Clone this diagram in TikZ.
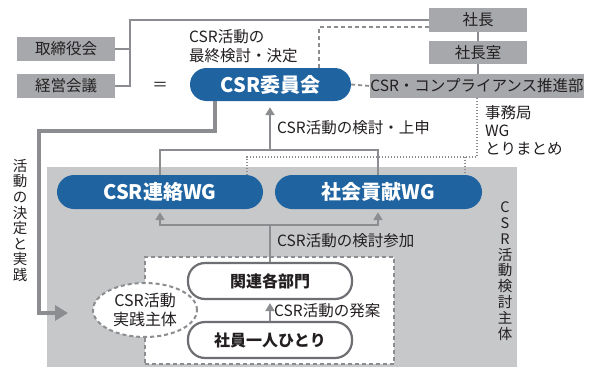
\documentclass[tikz,border=0pt]{standalone}
\usepackage{fontspec}
\setmainfont{Noto Sans CJK JP}
\usetikzlibrary{arrows.meta,shapes.geometric}
\definecolor{cblue}{HTML}{1F64A0}
\definecolor{cgreybox}{HTML}{A6A8AB}
\definecolor{cbg}{HTML}{C6C8CA}
\definecolor{cline}{HTML}{8B8D90}
\definecolor{cpill}{HTML}{6D6F72}
\definecolor{ctext}{HTML}{231F20}
\tikzset{
  greybox/.style={fill=cgreybox, text=ctext, minimum width=98pt, minimum height=24pt, inner sep=0pt, font=\fontsize{15.5}{18}\selectfont},
  bluepill/.style={fill=cblue, text=white, inner sep=0pt, font=\bfseries\fontsize{20}{24}\selectfont},
  outpill/.style={draw=cpill, line width=2.2pt, fill=white, rounded corners=17pt, inner sep=0pt, minimum width=164pt, minimum height=36pt, text=ctext, font=\bfseries\fontsize{16}{19}\selectfont},
  lbl/.style={text=ctext, inner sep=0pt, font=\fontsize{15.5}{19}\selectfont},
  conn/.style={draw=cline, line width=2.4pt},
  arr/.style={conn, -{Triangle[width=9pt,length=8pt]}},
  bigconn/.style={draw=cline, line width=4pt},
  dashline/.style={draw=cline, line width=1.8pt, dash pattern=on 4pt off 3pt},
  dotline/.style={draw=cline, line width=1.3pt, dash pattern=on 1.2pt off 1.8pt},
  dashbox/.style={draw=cline, line width=2pt, dash pattern=on 4pt off 3pt, fill=white, inner sep=0pt},
}
\begin{document}
\begin{tikzpicture}[x=1pt,y=-1pt]
\useasboundingbox (0,0) rectangle (590,367);
\fill[white] (0,0) rectangle (590,367);
% grey region
\node[fill=cbg, inner sep=0pt, minimum width=470pt, minimum height=200pt, anchor=north west] (region) at (47,167) {};
% dashed white area and ellipse
\node[dashbox, minimum width=249pt, minimum height=107pt] (area) at (269.5,310.5) {};
\node[dashbox, ellipse, minimum width=104pt, minimum height=54pt, align=center, text=ctext, font=\fontsize{16}{19}\selectfont] (jissen) at (145,310) {CSR活動\\実践主体};
% boxes
\node[greybox] (tori) at (66,49) {取締役会};
\node[greybox] (keiei) at (66,86) {経営会議};
\node[greybox] (shacho) at (478,20) {社長};
\node[greybox, minimum height=23pt] (shitsu) at (478,52.5) {社長室};
\node[greybox, minimum width=212pt] (suishin) at (477,86) {CSR・コンプライアンス推進部};
\node[bluepill, rounded corners=16.5pt, minimum width=161pt, minimum height=33pt] (iinkai) at (270.5,84.5) {CSR委員会};
\node[bluepill, rounded corners=17pt, minimum width=206pt, minimum height=34pt] (renraku) at (160,192) {CSR連絡WG};
\node[bluepill, rounded corners=17pt, minimum width=207pt, minimum height=34pt] (shakai) at (378.5,192) {社会貢献WG};
\node[outpill] (kanren) at (270,281) {関連各部門};
\node[outpill] (shain) at (270,340) {社員一人ひとり};
% texts
\node[lbl] (eq) at (160,86) {＝};
\node[lbl, anchor=west, align=left] (saishu) at (189,46.5) {CSR活動の\\最終検討・決定};
\node[lbl, anchor=west, align=left, font=\fontsize{15.5}{18}\selectfont] (jimu) at (485,130) {事務局\\WG\\とりまとめ};
\node[lbl, anchor=west] (l1) at (277,128) {CSR活動の検討・上申};
\node[lbl, anchor=west] (l2) at (277,241) {CSR活動の検討参加};
\node[lbl, anchor=west] (l3) at (274,311) {CSR活動の発案};
\node[lbl, align=center, font=\fontsize{14.5}{15.6}\selectfont] (kettei) at (20,220.5) {活\\動\\の\\決\\定\\と\\実\\践};
\node[lbl, align=center, font=\fontsize{14.5}{15.8}\selectfont] (kento) at (505,271) {C\\S\\R\\活\\動\\検\\討\\主\\体};
% coordinates
\coordinate (d1) at (319,27);
\coordinate (p1) at (477,157);
\coordinate (p2) at (247,157);
\coordinate (p3) at (465,157);
\coordinate (s1) at (160,150);
\coordinate (s2) at (378,150);
\coordinate (s3) at (270,150);
\coordinate (u1) at (160,225);
\coordinate (u2) at (378,225);
\coordinate (u3) at (270,225);
\coordinate (t1) at (215,131);
\coordinate (t2) at (39,131);
\coordinate (t3) at (39,313);
\coordinate (t4) at (68,313);
% connectors
\draw[conn] (tori.east) -- ++(16.2,0);
\draw[conn] (keiei.east) -- ++(15,0) |- (shacho.west);
\draw[conn] (shacho.south) -- (shitsu.north);
\draw[conn] (shitsu.south) -- (shitsu.south |- suishin.north);
\draw[dashline] ([yshift=-7pt]shacho.west) -- (d1) -- (d1 |- iinkai.north);
\draw[dashline] (iinkai.east) -- (suishin.west);
\draw[dotline] (suishin.south -| p1) -- (p1) -- (p2) -- (p2 |- renraku.north);
\draw[dotline] (p3) -- (p3 |- shakai.north);
\draw[conn] (s1 |- renraku.north) -- (s1) -- (s2) -- (s2 |- shakai.north);
\draw[arr, shorten >=6pt] (s3) -- (s3 |- iinkai.south);
\draw[arr, shorten >=3pt] (u2) -- (u1) -- (u1 |- renraku.south);
\draw[arr, shorten >=3pt] (u1) -- (u2) -- (u2 |- shakai.south);
\draw[conn] (kanren.north) -- (u3);
\draw[arr, shorten >=3pt] (shain.north) -- (kanren.south);
\draw[bigconn, -{Triangle[width=15pt,length=13pt]}] (iinkai.south -| t1) -- (t1) -- (t2) -- (t3) -- (t4);
\end{tikzpicture}
\end{document}
